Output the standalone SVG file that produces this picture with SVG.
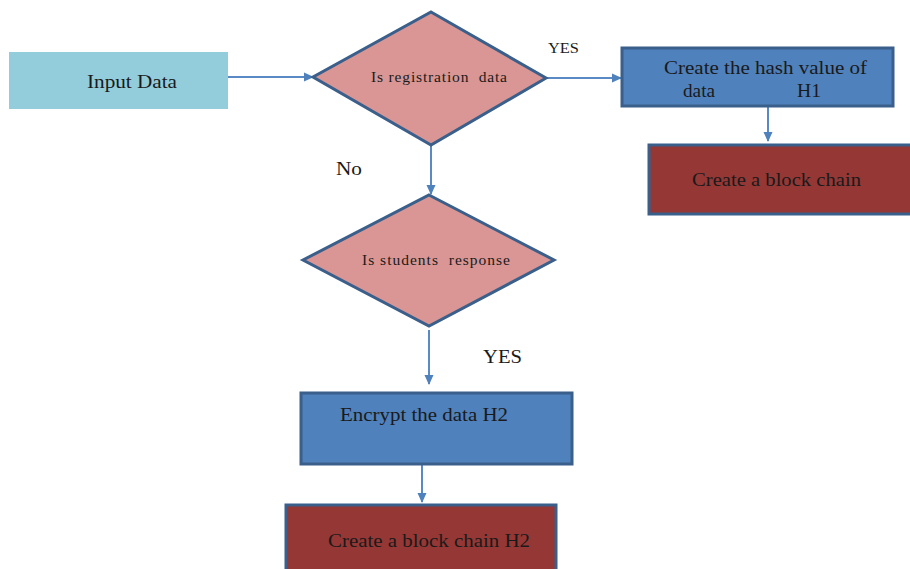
<svg xmlns="http://www.w3.org/2000/svg" width="910" height="569" viewBox="0 0 910 569">
<style>
text{font-family:'Liberation Serif','DejaVu Serif','Times New Roman',serif;fill:#1a1a1a}
.big{font-size:19px}
.small{font-size:15.5px}
.box{stroke:#3A5F8B;stroke-width:3}
.dia{fill:#D99694;stroke:#3A5F8B;stroke-width:3;stroke-linejoin:miter}
.con{stroke:#5A8AC6;stroke-width:2;fill:none;marker-end:url(#ah)}
</style>
<defs>
<marker id="ah" markerWidth="10" markerHeight="10" refX="9" refY="5" orient="auto" markerUnits="userSpaceOnUse">
<path d="M0,0.5 L10,5 L0,9.5 Z" fill="#4F81BD"/>
</marker>
</defs>
<rect width="910" height="569" fill="#ffffff"/>
<g id="connectors">
<path class="con" d="M228,77 L313,77"/>
<path class="con" d="M546,78 L621,78"/>
<path class="con" d="M768,107 L768,141"/>
<path class="con" d="M431,145 L431,194"/>
<path class="con" d="M429,330 L429,384"/>
<path class="con" d="M422,465 L422,502"/>
</g>
<g id="input">
<rect x="9" y="52" width="219" height="57" fill="#93CDDC"/>
<text class="big" x="87" y="88" textLength="90" lengthAdjust="spacingAndGlyphs">Input Data</text>
</g>
<g id="decision1">
<polygon class="dia" points="431,12 546,78 431,145 313,77"/>
<text class="small" x="371" y="82" textLength="136" lengthAdjust="spacing" xml:space="preserve">Is registration  data</text>
</g>
<g id="hash">
<rect class="box" x="622" y="48" width="271" height="58" fill="#4F81BD"/>
<text class="big" x="664" y="74" textLength="203" lengthAdjust="spacingAndGlyphs">Create the hash value of</text>
<text class="big" x="683" y="97" textLength="32" lengthAdjust="spacingAndGlyphs">data</text>
<text class="big" x="797" y="97" textLength="24" lengthAdjust="spacingAndGlyphs">H1</text>
</g>
<g id="chain1">
<rect class="box" x="649" y="145" width="270" height="69" fill="#953735"/>
<text class="big" x="692" y="186" textLength="169" lengthAdjust="spacingAndGlyphs">Create a block chain</text>
</g>
<g id="decision2">
<polygon class="dia" points="429,195 554,260 429,326 303,260"/>
<text class="small" x="362" y="265" textLength="148" lengthAdjust="spacing" xml:space="preserve">Is students  response</text>
</g>
<g id="encrypt">
<rect class="box" x="301" y="393" width="271" height="71" fill="#4F81BD"/>
<text class="big" x="340" y="421" textLength="168" lengthAdjust="spacingAndGlyphs">Encrypt the data H2</text>
</g>
<g id="chain2">
<rect class="box" x="286" y="505" width="270" height="70" fill="#953735"/>
<text class="big" x="328" y="547" textLength="202" lengthAdjust="spacingAndGlyphs">Create a block chain H2</text>
</g>
<g id="labels">
<text class="small" x="548" y="53" textLength="31" lengthAdjust="spacingAndGlyphs">YES</text>
<text class="big" x="336" y="175" textLength="26" lengthAdjust="spacingAndGlyphs">No</text>
<text class="big" x="483" y="363" textLength="39" lengthAdjust="spacingAndGlyphs">YES</text>
</g>
</svg>
